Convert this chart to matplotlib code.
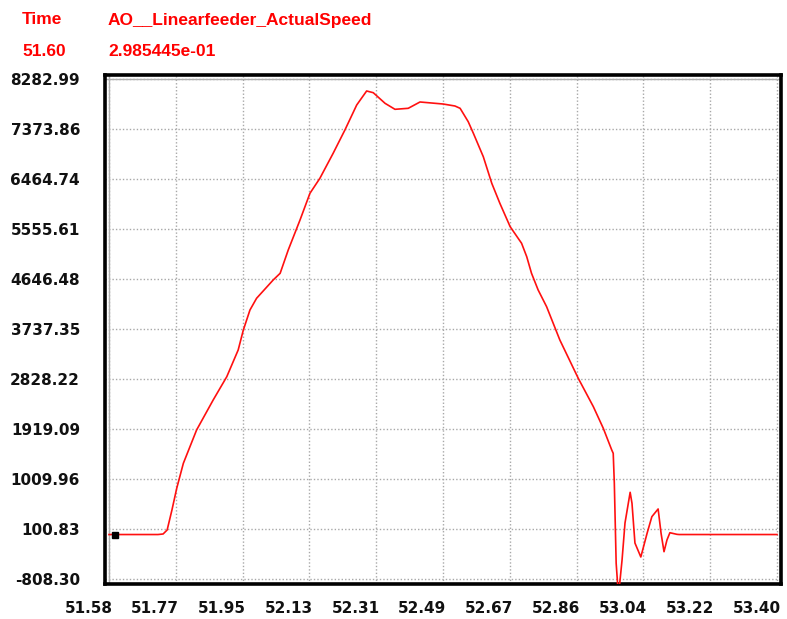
# -*- coding: utf-8 -*-
"""AO__Linearfeeder_ActualSpeed trace, scope-style view."""

import matplotlib

matplotlib.use("Agg")
import matplotlib.pyplot as plt
import matplotlib.transforms as mtransforms
import numpy as np

# time axis (s) and speed values
time = [
    51.585, 51.718, 51.732, 51.743, 51.756, 51.769, 51.787, 51.823, 51.868,
    51.905, 51.936, 51.950, 51.968, 51.986, 52.031, 52.050, 52.072, 52.104,
    52.131, 52.158, 52.194, 52.226, 52.258, 52.285, 52.303, 52.335, 52.362,
    52.398, 52.430, 52.493, 52.525, 52.539, 52.561, 52.575, 52.602, 52.625,
    52.647, 52.675, 52.706, 52.720, 52.733, 52.751, 52.774, 52.810, 52.860,
    52.901, 52.928, 52.951, 52.955, 52.958, 52.963, 52.968, 52.971, 52.979,
    52.987, 53.001, 53.006, 53.014, 53.030, 53.047, 53.060, 53.077, 53.085,
    53.093, 53.101, 53.109, 53.128, 53.134, 53.400,
]
speed = [
    0.3, 0.3, 10, 83, 446, 841, 1295, 1901, 2446,
    2870, 3356, 3719, 4083, 4296, 4628, 4750, 5174, 5719,
    6205, 6478, 6932, 7356, 7810, 8065, 8034, 7841, 7732,
    7750, 7865, 7828, 7792, 7750, 7507, 7296, 6870, 6387,
    6023, 5597, 5296, 5052, 4750, 4447, 4143, 3537, 2841,
    2325, 1932, 1537, 1477, 932, -523, -1000, -1000, -463,
    210, 768, 568, -154, -408, 23, 325, 465, 23,
    -312, -99, 33, 4, 0.3, 0.3,
]

cursor_time = 51.60
cursor_value = 2.985445e-01

x_labels = ["51.58", "51.77", "51.95", "52.13", "52.31", "52.49",
            "52.67", "52.86", "53.04", "53.22", "53.40"]
y_labels = ["-808.30", "100.83", "1009.96", "1919.09", "2828.22", "3737.35",
            "4646.48", "5555.61", "6464.74", "7373.86", "8282.99"]

X_MIN, X_MAX = 51.585, 53.40
Y_MIN, Y_MAX = -808.30, 8282.99


def main() -> None:
    fig = plt.figure(figsize=(7.87, 6.19), dpi=100)
    ax = fig.add_axes([105 / 787, 35 / 619, 676 / 787, 509 / 619])

    # small margin between data area and the thick frame
    px_x = (X_MAX - X_MIN) / 668
    px_y = (Y_MAX - Y_MIN) / 500
    ax.set_xlim(X_MIN - 4 * px_x, X_MAX + 4 * px_x)
    ax.set_ylim(Y_MIN - 5 * px_y, Y_MAX + 4 * px_y)

    xt = np.linspace(X_MIN, X_MAX, len(x_labels))
    yt = np.linspace(Y_MIN, Y_MAX, len(y_labels))
    ax.set_xticks(xt)
    ax.set_xticklabels(x_labels)
    ax.set_yticks(yt)
    ax.set_yticklabels(y_labels)
    ax.tick_params(axis="both", length=0, labelsize=11)
    ax.tick_params(axis="x", pad=12)
    ax.tick_params(axis="y", pad=18)

    # x labels sit just left of their grid line, as in the scope software
    shift = mtransforms.ScaledTranslation(0.035, 0, fig.dpi_scale_trans)
    for lab in ax.get_xticklabels():
        lab.set_horizontalalignment("right")
        lab.set_transform(lab.get_transform() + shift)
    for lab in ax.get_xticklabels() + ax.get_yticklabels():
        lab.set_fontweight("bold")
        lab.set_color("#111111")

    ax.grid(True, color="#a8a8a8", linestyle=(0, (1, 1.5)), linewidth=1.0)
    ax.axvline(X_MIN, color="#b0b0b0", linewidth=1.0)
    ax.axhline(Y_MAX, color="#b0b0b0", linewidth=1.0)

    for spine in ax.spines.values():
        spine.set_linewidth(2.6)
        spine.set_color("black")

    ax.plot(time, speed, color="#ff1010", linewidth=1.2, zorder=3)
    ax.plot([cursor_time], [cursor_value], marker="s", color="black",
            markersize=4.5, zorder=4)

    red = "#ff0000"
    fig.text(22 / 787, 1 - 20 / 619, "Time", color=red, fontsize=12.5,
             fontweight="bold", family="Liberation Sans", va="center")
    fig.text(108 / 787, 1 - 20 / 619, "AO__Linearfeeder_ActualSpeed", color=red,
             fontsize=12.5, fontweight="bold", family="Liberation Sans", va="center")
    fig.text(22 / 787, 1 - 52 / 619, f"{cursor_time:.2f}", color=red, fontsize=12.5,
             fontweight="bold", family="Liberation Sans", va="center")
    fig.text(108 / 787, 1 - 52 / 619, f"{cursor_value:.6e}", color=red,
             fontsize=12.5, fontweight="bold", family="Liberation Sans", va="center")

    fig.savefig("out.png", dpi=100)
    plt.close(fig)


if __name__ == "__main__":
    main()
